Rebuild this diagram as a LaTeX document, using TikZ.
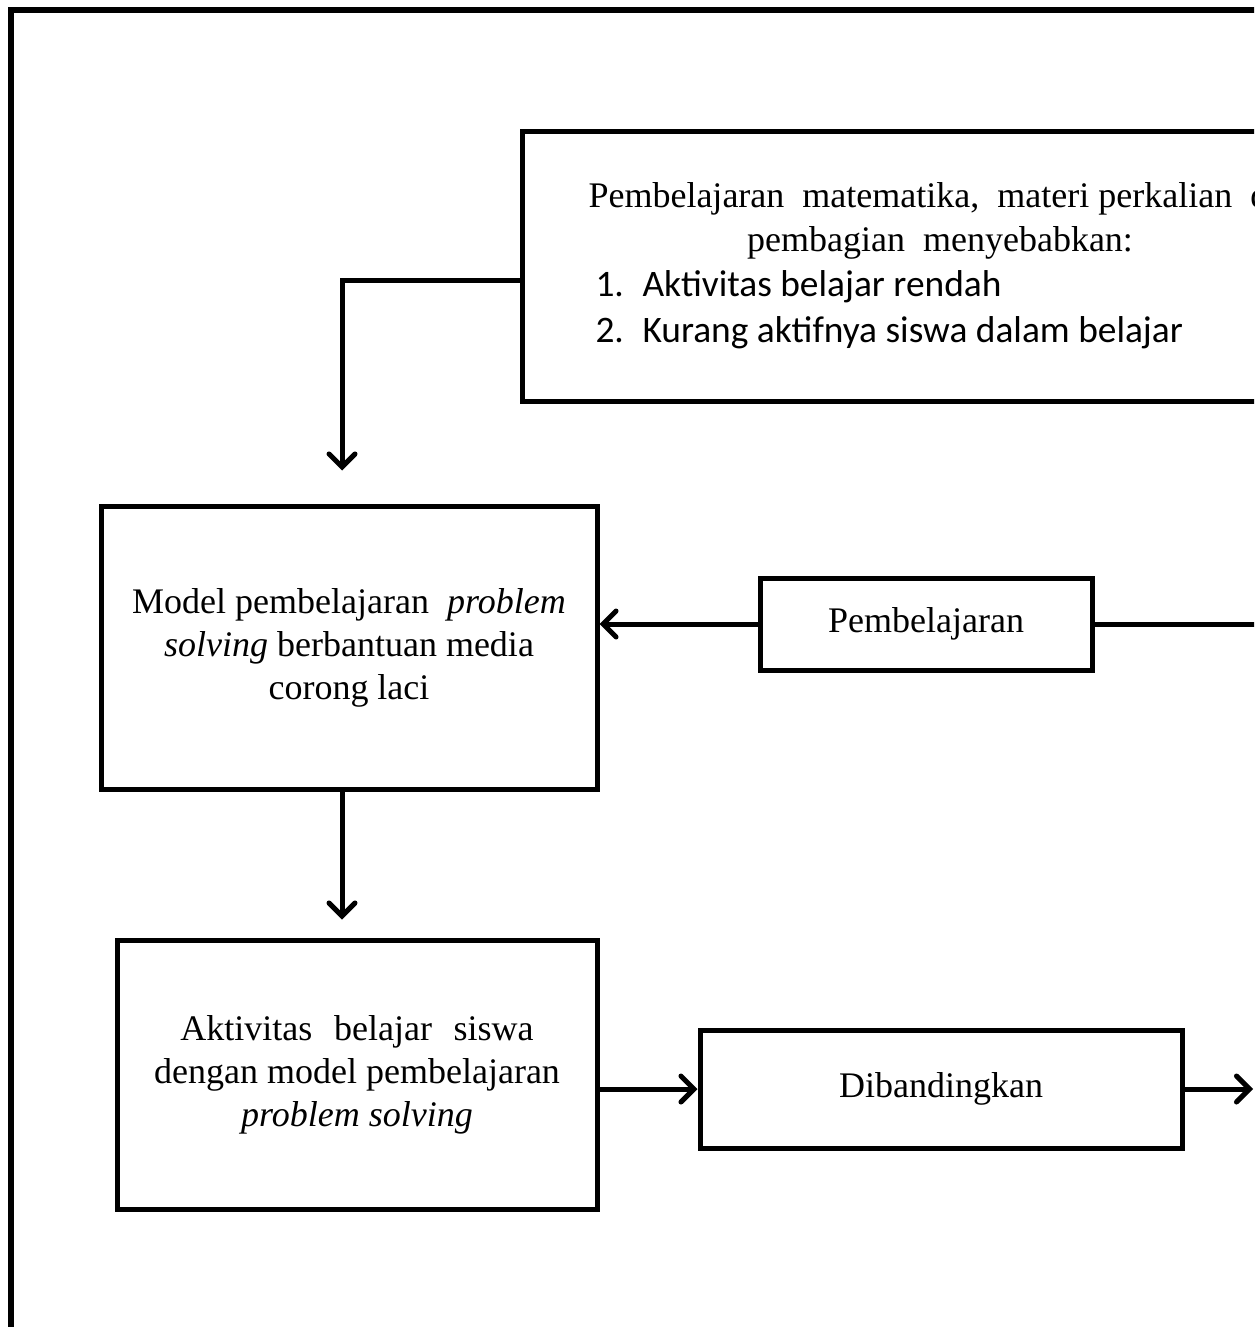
\documentclass[tikz,border=0pt]{standalone}
\usepackage{fontspec}
\setmainfont{Liberation Serif}
\newfontfamily\calibri{Carlito}
\usetikzlibrary{arrows.meta}

\tikzset{
  kotak/.style={draw, line width=2.5pt, align=center, inner sep=0pt,
    font=\fontsize{18pt}{21.5pt}\selectfont},
  teks/.style={inner sep=0pt, font=\fontsize{18pt}{21.5pt}\selectfont},
  daftar/.style={teks, anchor=base west, font=\calibri\fontsize{18.7pt}{22pt}\selectfont},
  panah/.style={-{Straight Barb[length=6.5pt,width=13pt,line cap=round]}}
}

\begin{document}
\begin{tikzpicture}[x=0.5pt,y=-0.5pt,line width=2.5pt]
\useasboundingbox (0,0) rectangle (1254,1327);
\clip (0,0) rectangle (1254,1327);
% bingkai luar
\draw[line width=3pt] (11,1340) -- (11,10) -- (1270,10);

% kotak-kotak
\node[kotak,minimum width=384pt,minimum height=134.5pt] (masalah) at (906,266.5) {};
\node[teks,anchor=base west] (baris1) at (586,207) {Pembelajaran\ \ matematika,\ \ materi perkalian\ \ dan};
\node[teks,anchor=base] (baris2) at (940,251) {pembagian\ \ menyebabkan:};
\node[daftar] (no1) at (593,296) {1.};
\node[daftar] (sebab1) at (640,296) {Aktivitas belajar rendah};
\node[daftar] (no2) at (593,342) {2.};
\node[daftar] (sebab2) at (640,342) {Kurang aktifnya siswa dalam belajar};

\node[kotak,minimum width=248pt,minimum height=141.5pt] (model) at (349,647.5)
  {Model pembelajaran\ \ \textit{problem}\\\textit{solving} berbantuan media\\corong laci};
\node[kotak,minimum width=166pt,minimum height=46pt] (pemb) at (926,624) {Pembelajaran};
\node[kotak,minimum width=240pt,minimum height=134.5pt] (aktivitas) at (357,1074.5)
  {Aktivitas\hspace{0.6em}belajar\hspace{0.6em}siswa\\dengan model pembelajaran\\\textit{problem solving}};
\node[kotak,minimum width=241pt,minimum height=59pt] (banding) at (941,1089) {Dibandingkan};
\coordinate (tepi) at (1253,1089);

% penghubung
\draw[panah,shorten >=16.5pt] ([yshift=-7pt]masalah.west) -| ([xshift=-3.5pt]model.north);
\draw[panah,shorten >=9pt] ([xshift=-3.5pt]model.south) -- ([xshift=-3.5pt]model.south |- aktivitas.north);
\draw[panah] (pemb.west) -- (model.east |- pemb.west);
\draw (pemb.east) -- (pemb.east -| masalah.east);
\draw[panah] (aktivitas.east |- banding.west) -- (banding.west);
\draw[panah] (banding.east) -- (tepi);
\end{tikzpicture}
\end{document}
